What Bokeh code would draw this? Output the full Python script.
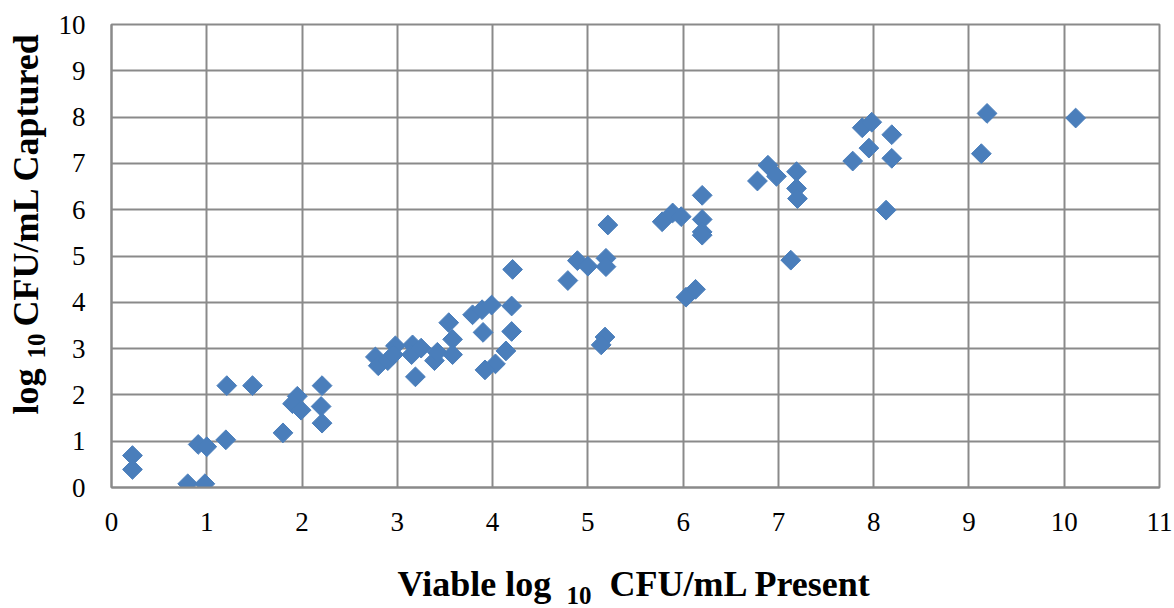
import math
from bokeh.plotting import figure
from bokeh.models import Range1d, FixedTicker, Label
from bokeh.layouts import column, row
from bokeh.embed import file_html
from bokeh.resources import INLINE

x_vals = [0.22, 0.22, 0.80, 0.98, 0.91, 1.00, 1.20, 1.21, 1.48, 1.80, 1.95, 1.90, 1.99, 2.21, 2.20, 2.21,
          2.77, 2.80, 2.90, 2.98, 2.96, 3.16, 3.15, 3.25, 3.19, 3.39, 3.42, 3.54, 3.58, 3.58, 3.79, 3.89,
          3.99, 3.90, 4.20, 4.20, 4.14, 4.03, 3.92, 4.21, 4.79, 4.89, 5.00, 5.19, 5.19, 5.18, 5.14,
          5.21, 5.78, 5.89, 5.98, 6.20, 6.20, 6.20, 6.20, 6.03, 6.13, 7.13, 6.78, 6.89, 6.98, 7.19, 7.19, 7.20,
          7.78, 7.88, 7.98, 7.95, 8.19, 8.19, 8.13, 9.13, 9.19, 10.12]
y_vals = [0.69, 0.39, 0.08, 0.08, 0.93, 0.88, 1.03, 2.20, 2.20, 1.18, 1.97, 1.81, 1.67, 2.20, 1.75, 1.39,
          2.82, 2.63, 2.74, 3.06, 2.87, 3.08, 2.87, 3.01, 2.39, 2.74, 2.92, 3.56, 3.20, 2.87, 3.73, 3.84,
          3.94, 3.35, 3.92, 3.37, 2.95, 2.67, 2.54, 4.71, 4.47, 4.90, 4.78, 4.95, 4.77, 3.25, 3.08,
          5.67, 5.74, 5.93, 5.85, 6.31, 5.79, 5.52, 5.45, 4.11, 4.28, 4.91, 6.62, 6.96, 6.72, 6.82, 6.46, 6.24,
          7.05, 7.77, 7.89, 7.33, 7.62, 7.11, 5.99, 7.21, 8.08, 7.98]
x_ticks = list(range(0, 12))
y_ticks = list(range(0, 11))

GRID = "#8a8a8a"
BLUE = "#4a7ebb"
SERIF = "Liberation Serif"

YLAB_W = 50
MAIN_H = 553
TOTAL_W, TOTAL_H = 1174, 608
F_TOP, F_BOT = 24, 487  # frame top / bottom (canvas px)

p = figure(width=TOTAL_W - YLAB_W, height=MAIN_H, output_backend="svg", toolbar_location=None,
           x_range=Range1d(0, 11), y_range=Range1d(0, 10),
           min_border_left=111 - YLAB_W, min_border_right=15, min_border_top=F_TOP,
           min_border_bottom=MAIN_H - F_BOT)
p.background_fill_color = "white"
p.border_fill_color = "white"
p.outline_line_color = GRID
p.outline_line_width = 2

for ax in (p.xaxis, p.yaxis):
    ax.major_tick_line_color = None
    ax.minor_tick_line_color = None
    ax.major_tick_out = 0
    ax.major_tick_in = 0
    ax.axis_line_color = GRID
    ax.axis_line_width = 2
    ax.major_label_text_font = SERIF
    ax.major_label_text_font_size = "27px"
    ax.major_label_text_color = "black"
p.xaxis.ticker = FixedTicker(ticks=x_ticks)
p.yaxis.ticker = FixedTicker(ticks=y_ticks)
p.xaxis.major_label_standoff = 25
p.yaxis.major_label_standoff = 26

p.xgrid.ticker = FixedTicker(ticks=x_ticks)
p.ygrid.ticker = FixedTicker(ticks=y_ticks)
p.grid.grid_line_color = GRID
p.grid.grid_line_width = 2

p.scatter(x_vals, y_vals, marker="square", angle=math.pi / 4, size=14,
          fill_color=BLUE, line_color=BLUE, line_width=1)


def blank(w, h, top=0, bottom=0):
    f = figure(width=w, height=h, output_backend="svg", toolbar_location=None,
               x_axis_location=None, y_axis_location=None,
               min_border=0, min_border_left=0, min_border_right=0,
               min_border_top=top, min_border_bottom=bottom)
    f.outline_line_color = None
    f.grid.visible = False
    f.background_fill_color = "white"
    f.border_fill_color = "white"
    return f


def lab(f, text, sx, sy, size, angle=0.0):
    f.add_layout(Label(x=sx, y=sy, x_units="screen", y_units="screen",
                       text=text, text_font=SERIF, text_font_style="bold",
                       text_font_size=f"{size}px", text_color="black", angle=angle,
                       text_align="left", text_baseline="alphabetic"))


BL = 0.31  # baseline correction (fraction of font size)
T = 36     # title font size
S = 25     # subscript font size

# y axis title; frame aligned with main frame (bottom at canvas y 487)
ylab = blank(YLAB_W, MAIN_H, top=F_TOP, bottom=MAIN_H - F_BOT)
lab(ylab, "log", 37 - BL * T, F_BOT - 414, T, math.pi / 2)
lab(ylab, "10", 44 - BL * S, F_BOT - 358, S, math.pi / 2)
lab(ylab, "CFU/mL Captured", 37 - BL * T, F_BOT - 326, T, math.pi / 2)

# x axis title (canvas y 553..608)
xlab = blank(TOTAL_W, TOTAL_H - MAIN_H)
lab(xlab, "Viable log", 397, TOTAL_H - 595 + BL * T, T)
lab(xlab, "10", 566, TOTAL_H - 603 + BL * S, S)
lab(xlab, "CFU/mL Present", 609, TOTAL_H - 595 + BL * T, T)

layout = column(row(ylab, p, spacing=0), xlab, spacing=0)
open("out.html", "w").write(file_html(layout, INLINE))
